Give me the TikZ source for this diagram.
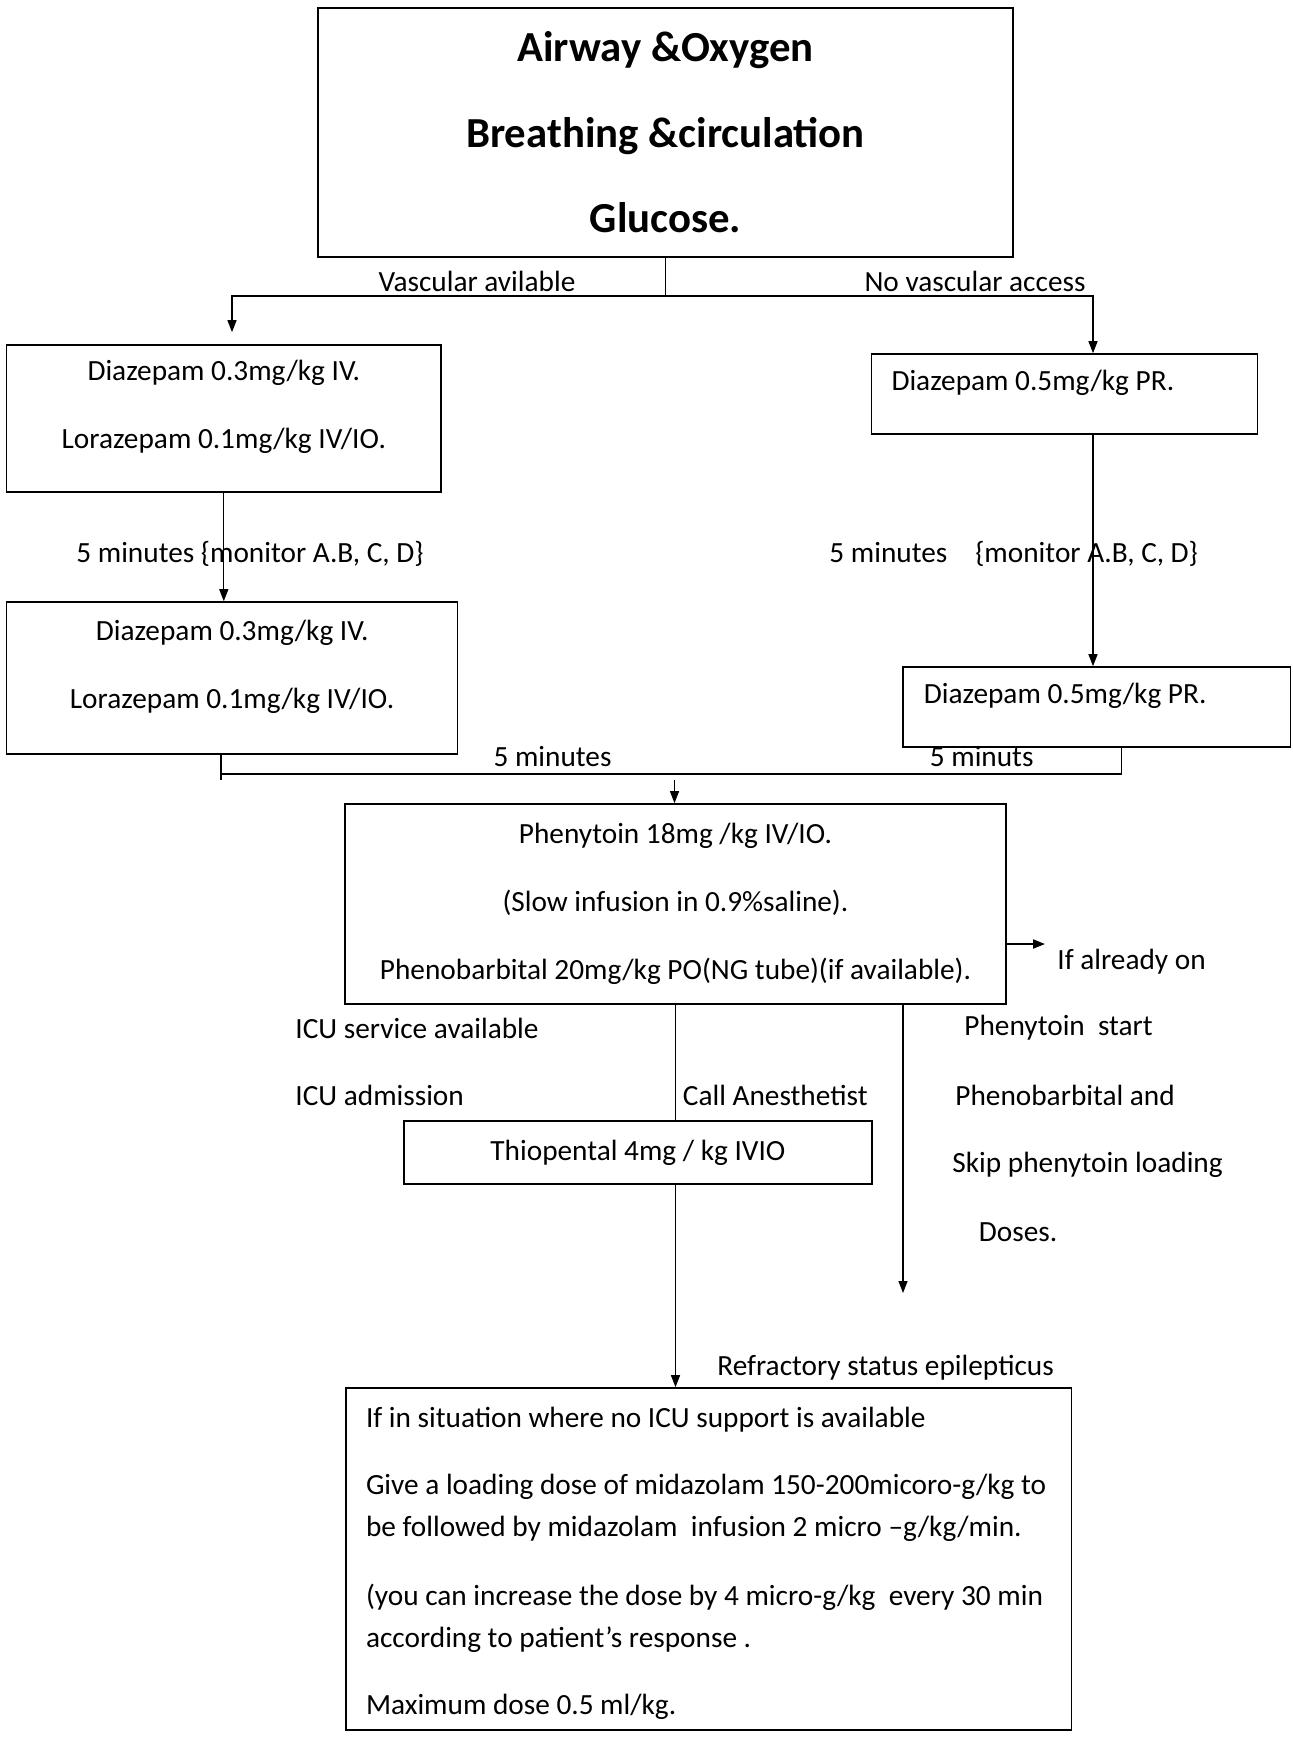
\documentclass[tikz,border=0pt]{standalone}
\usepackage{fontspec}
\setmainfont{Carlito}
\usetikzlibrary{arrows.meta}
\newcommand{\flowfont}{\fontsize{14.65}{34}\selectfont}
\tikzset{
    flowbox/.style={rectangle, draw, line width=0.8pt, align=center, font=\flowfont, inner sep=0pt},
    lbl/.style={font=\flowfont, inner sep=0pt},
    link/.style={line width=0.6pt},
    arrow/.style={-{Triangle[length=6pt, width=4.5pt]}, line width=0.6pt},
}
\begin{document}
\begin{tikzpicture}[x=0.5pt, y=-0.5pt]
    \useasboundingbox (0,0) rectangle (1293,1739);

    % ABC box
    \node[flowbox, minimum width=347.5pt, minimum height=124.5pt, font=\fontsize{21.4}{42.75}\selectfont\bfseries] (abc) at (665.5,132.5)
        {Airway \&Oxygen\\Breathing \&circulation\\Glucose.};

    % first line drugs
    \node[flowbox, minimum width=217.2pt, minimum height=73.5pt] (dzIV) at (223.8,418.5)
        {Diazepam 0.3mg/kg IV.\\Lorazepam 0.1mg/kg IV/IO.\\[-20pt]\mbox{}};
    \node[flowbox, minimum width=225.5pt, minimum height=76pt] (dzIVb) at (232.1,678)
        {Diazepam 0.3mg/kg IV.\\Lorazepam 0.1mg/kg IV/IO.\\[-20pt]\mbox{}};
    \node[flowbox, minimum width=193pt, minimum height=40pt, align=flush left, text width=173pt] (dzPR) at (1064.5,394)
        {Diazepam 0.5mg/kg PR.\\[-20pt]\mbox{}};
    \node[flowbox, minimum width=193.75pt, minimum height=40pt, align=flush left, text width=173pt] (dzPRb) at (1096.8,707)
        {Diazepam 0.5mg/kg PR.\\[-20pt]\mbox{}};

    % second line
    \node[flowbox, minimum width=330.5pt, minimum height=100pt] (pheny) at (675.5,904)
        {Phenytoin 18mg /kg IV/IO.\\(Slow infusion in 0.9\%saline).\\Phenobarbital 20mg/kg PO(NG tube)(if available).};
    \node[flowbox, minimum width=234.15pt, minimum height=31.5pt] (thio) at (637.9,1152.5) {Thiopental 4mg / kg IVIO};

    % refractory
    \node[flowbox, minimum width=362.7pt, minimum height=171pt, align=flush left, text width=342.7pt, inner xsep=10pt,
          text height=14.8pt, font=\fontsize{14.65}{21}\selectfont] (refr) at (708.7,1559)
        {If in situation where no ICU support is available\\[12.5pt]%
        Give a loading dose of midazolam 150-200micoro-g/kg to\\%
        be followed by midazolam\ \ infusion 2 micro –g/kg/min.\\[13.5pt]%
        (you can increase the dose by 4 micro-g/kg\ \ every 30 min\\%
        according to patient’s response .\\[12.5pt]%
        Maximum dose 0.5 ml/kg.};

    % labels
    \node[lbl] (vasc) at (477,281) {Vascular avilable};
    \node[lbl] (novasc) at (975,281) {No vascular access};
    \node[lbl, anchor=west] (waitL) at (76,554) {5 minutes \{monitor A.B, C, D\}};
    \node[lbl, anchor=west] (waitR) at (829,554) {5 minutes\hspace{14pt}\{monitor A.B, C, D\}};
    \node[lbl] (waitLb) at (552.5,757) {5 minutes};
    \node[lbl] (waitRb) at (981.7,757) {5 minuts};
    \node[lbl, anchor=west] (already) at (1057,962) {If already on};
    \node[lbl, anchor=west] (icuA) at (295,1028) {ICU service available};
    \node[lbl, anchor=west] (icuB) at (295,1095) {ICU admission};
    \node[lbl, anchor=west] (anest) at (682.5,1095) {Call Anesthetist};
    \node[lbl, anchor=west] (skipA) at (964,1028) {Phenytoin\ \ start};
    \node[lbl, anchor=west] (skipB) at (955,1095) {Phenobarbital and};
    \node[lbl, anchor=west] (skipC) at (952,1165) {Skip phenytoin loading};
    \node[lbl, anchor=west] (skipD) at (978.5,1232) {Doses.};
    \node[lbl, anchor=west] (rse) at (717,1368) {Refractory status epilepticus};

    % connectors
    \coordinate (forkL) at (232,296);
    \coordinate (forkR) at (1093,296);
    \draw[arrow, shorten >=6pt] (abc.south) |- (forkL) -- (forkL |- dzIV.north);
    \draw[arrow] (abc.south) |- (forkR) -- (forkR |- dzPR.north);
    \draw[arrow] (dzIV.south) -- (dzIV.south |- dzIVb.north);
    \draw[arrow] (forkR |- dzPR.south) -- (forkR |- dzPRb.north);

    \coordinate (mergeL) at (221,780);
    \coordinate (mergeR) at (1121.5,774);
    \coordinate (mergeC) at (674.5,780);
    \draw[link] (mergeL |- dzIVb.south) -- (mergeL);
    \draw[link] (mergeL |- mergeR) -- (mergeR) -- (mergeR |- dzPRb.south);
    \draw[arrow] (mergeC) -- (mergeC |- pheny.north);

    \coordinate (alreadyTip) at (1045,944);
    \draw[arrow, line width=1pt] (pheny.east |- alreadyTip) -- (alreadyTip);
    \draw[link] (pheny.south) -- (pheny.south |- thio.north);
    \draw[arrow] (pheny.south |- thio.south) -- (pheny.south |- refr.north);
    \coordinate (skipEnd) at (903,1293);
    \draw[arrow] (skipEnd |- pheny.south) -- (skipEnd);
\end{tikzpicture}
\end{document}
